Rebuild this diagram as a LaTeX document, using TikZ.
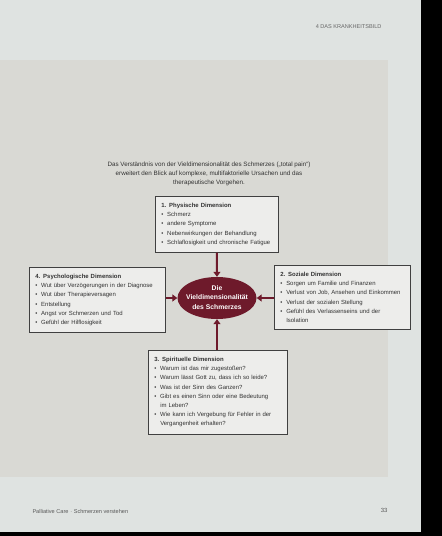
\documentclass[tikz,border=0pt]{standalone}
\usepackage{fontspec}
\setmainfont{Liberation Sans}
\usetikzlibrary{arrows.meta,shapes.geometric}
\definecolor{pagegray}{HTML}{DFE3E1}
\definecolor{panelgray}{HTML}{D9D9D4}
\definecolor{boxgray}{HTML}{EDEDEB}
\definecolor{wine}{HTML}{6E1A2B}
\setlength{\parindent}{0pt}
\newcommand{\itm}[1]{\par\makebox[6bp][l]{\textbullet}#1}
\newcommand{\cnt}[1]{\par\hspace*{6bp}#1}
\newcommand{\boxtitle}[1]{\textbf{#1}}

\begin{document}
\begin{tikzpicture}[x=1bp,y=-1bp,
  dimbox/.style={draw=black!75,line width=.5bp,fill=boxgray,anchor=north west,
    inner xsep=6bp,inner ysep=7bp,text width=#1,align=left,text=black!80,
    font=\fontsize{6}{9.2}\selectfont},
  core/.style={ellipse,fill=wine,text=white,minimum width=79bp,minimum height=42bp,
    inner sep=0pt,font=\fontsize{6.8}{9.4}\selectfont\bfseries},
  into/.style={draw=wine,line width=2bp,-{Triangle[length=5bp,width=7bp]}}]
  \useasboundingbox (0,0) rectangle (442,536);
  % page and panel
  \fill[pagegray] (0,0) rectangle (442,536);
  \fill[panelgray] (0,60) rectangle (388,477);
  \fill[black] (421,0) rectangle (442,536);
  \fill[black] (0,532) rectangle (442,536);
  \node[anchor=east,text=black!60,font=\fontsize{5.6}{6}\selectfont] (head) at (385,27) {4 DAS KRANKHEITSBILD};
  \node[anchor=west,text=black!65,font=\fontsize{5.6}{6}\selectfont] (foot) at (29,511) {Palliative Care $\cdot$ Schmerzen verstehen};
  \node[anchor=east,text=black!65,font=\fontsize{6}{6}\selectfont] (page) at (391,510) {33};

  \node[align=center,text=black!80,font=\fontsize{6.3}{9}\selectfont] (caption) at (209,174)
    {Das Verständnis von der Vieldimensionalität des Schmerzes („total pain“)\\
     erweitert den Blick auf komplexe, multifaktorielle Ursachen und das\\
     therapeutische Vorgehen.};

  \node[core] (vield) at (217,298)
    {\makebox[0pt]{\begin{tabular}{@{}c@{}}Die\\Vieldimensionalität\\des Schmerzes\end{tabular}}};

  \node[dimbox=111bp] (phys) at (155,196) {\boxtitle{1. Physische Dimension}
    \itm{Schmerz}
    \itm{andere Symptome}
    \itm{Nebenwirkungen der Behandlung}
    \itm{Schlaflosigkeit und chronische Fatigue}};
  \node[dimbox=124bp] (sozi) at (274,265) {\boxtitle{2. Soziale Dimension}
    \itm{Sorgen um Familie und Finanzen}
    \itm{Verlust von Job, Ansehen und Einkommen}
    \itm{Verlust der sozialen Stellung}
    \itm{Gefühl des Verlassenseins und der}
    \cnt{Isolation}};
  \node[dimbox=127bp] (spir) at (148,350) {\boxtitle{3. Spirituelle Dimension}
    \itm{Warum ist das mir zugestoßen?}
    \itm{Warum lässt Gott zu, dass ich so leide?}
    \itm{Was ist der Sinn des Ganzen?}
    \itm{Gibt es einen Sinn oder eine Bedeutung}
    \cnt{im Leben?}
    \itm{Wie kann ich Vergebung für Fehler in der}
    \cnt{Vergangenheit erhalten?}};
  \node[dimbox=124bp] (psych) at (29,267) {\boxtitle{4. Psychologische Dimension}
    \itm{Wut über Verzögerungen in der Diagnose}
    \itm{Wut über Therapieversagen}
    \itm{Entstellung}
    \itm{Angst vor Schmerzen und Tod}
    \itm{Gefühl der Hilflosigkeit}};

  \draw[into] (phys.south) -- (vield.north);
  \draw[into] (vield.south |- spir.north) -- (vield.south);
  \draw[into] (psych.east |- vield) -- (vield.west);
  \draw[into] (sozi.west |- vield) -- (vield.east);
\end{tikzpicture}
\end{document}
